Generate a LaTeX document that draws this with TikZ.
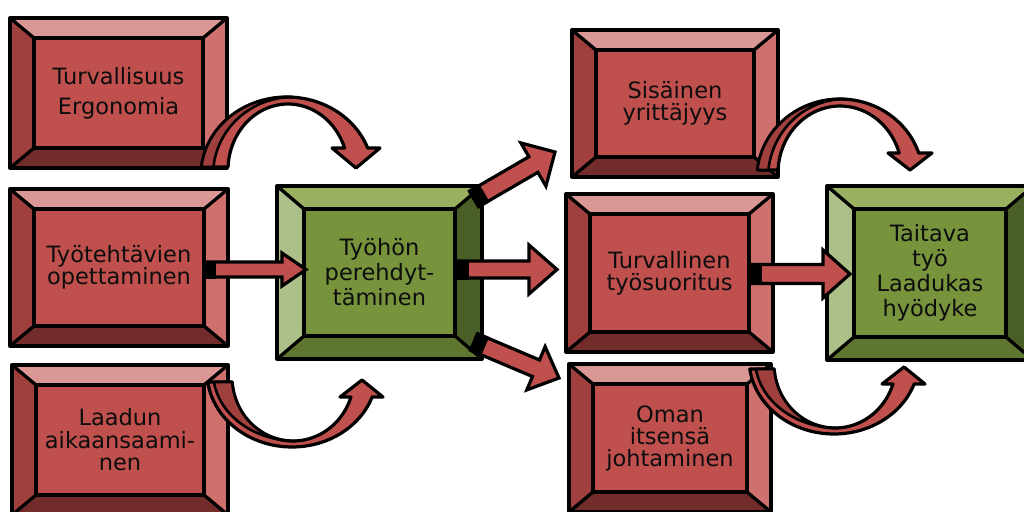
\documentclass[tikz,border=0pt]{standalone}
\usepackage{fontspec}
\setmainfont{DejaVu Sans}
\usetikzlibrary{calc}

% palette: r = red boxes, g = green boxes
\definecolor{rface}{HTML}{C0504D}
\definecolor{rtop}{HTML}{D99795}
\definecolor{rright}{HTML}{CD706E}
\definecolor{rleft}{HTML}{A0403E}
\definecolor{rbot}{HTML}{722C2B}
\definecolor{gface}{HTML}{77933C}
\definecolor{gtop}{HTML}{98B060}
\definecolor{gright}{HTML}{4A5E27}
\definecolor{gleft}{HTML}{ADC08A}
\definecolor{gbot}{HTML}{5F7630}

% bevel widths (horizontal / vertical) per palette
\newcommand\bevelrh{24}\newcommand\bevelrv{20}
\newcommand\bevelgh{27}\newcommand\bevelgv{23}

\tikzset{
  boxshape/.style={rectangle, draw=none, inner sep=0pt, outer sep=0pt},
  bevelline/.style={draw=black, line width=3.3pt, line join=round},
  boxtext/.style={inner sep=0pt, align=center, text=black!95},
  arrowbody/.style={fill=rface, draw=black, line width=3.2pt, line join=miter},
  curvefront/.style={fill=rface, draw=black, line width=3.2pt, line join=round},
  curveback/.style={fill=rleft, draw=black, line width=2.6pt, line join=round},
}

% bevelled box: name, centre x, centre y, width, height, palette, line skip, text
\newcommand{\bevelbox}[8]{%
  \node[boxshape, minimum width=#4pt, minimum height=#5pt] (#1) at (#2,#3) {};
  \edef\bvh{\csname bevel#6h\endcsname}\edef\bvv{\csname bevel#6v\endcsname}%
  \coordinate (#1-a) at ($(#1.north west)+(\bvh,\bvv)$);
  \coordinate (#1-b) at ($(#1.north east)+(-\bvh,\bvv)$);
  \coordinate (#1-c) at ($(#1.south east)+(-\bvh,-\bvv)$);
  \coordinate (#1-d) at ($(#1.south west)+(\bvh,-\bvv)$);
  \fill[#6top] (#1.north west) -- (#1.north east) -- (#1-b) -- (#1-a) -- cycle;
  \fill[#6right] (#1.north east) -- (#1.south east) -- (#1-c) -- (#1-b) -- cycle;
  \fill[#6bot] (#1.south east) -- (#1.south west) -- (#1-d) -- (#1-c) -- cycle;
  \fill[#6left] (#1.south west) -- (#1.north west) -- (#1-a) -- (#1-d) -- cycle;
  \fill[#6face] (#1-a) rectangle (#1-c);
  \draw[bevelline] (#1.north west) rectangle (#1.south east);
  \draw[bevelline] (#1-a) rectangle (#1-c);
  \draw[bevelline] (#1.north west) -- (#1-a) (#1.north east) -- (#1-b)
                   (#1.south east) -- (#1-c) (#1.south west) -- (#1-d);
  \node[boxtext, font=\fontsize{22.5}{#7}\selectfont] (#1-text) at (#1.center) {#8};
}

% straight block arrow: from, to, shaft half width, head half width, head length
\newcommand{\blockarrow}[5]{%
  \filldraw[arrowbody] let \p1=(#1), \p2=(#2),
      \n1={atan2(\y2-\y1,\x2-\x1)}, \n2={veclen(\x2-\x1,\y2-\y1)} in
    [shift={(\p1)}, rotate=\n1]
    (0,-#3) -- ({\n2-#5},-#3) -- ({\n2-#5},-#4) -- (\n2,0)
    -- ({\n2-#5},#4) -- ({\n2-#5},#3) -- (0,#3) -- cycle;
  \fill[black] let \p1=(#1), \p2=(#2),
      \n1={atan2(\y2-\y1,\x2-\x1)} in
    [shift={(\p1)}, rotate=\n1]
    (0,-#3-1.5) -- (12,-#3-1.5) -- (12,#3+1.5) -- (0,#3+1.5) -- cycle;
}

\begin{document}
\begin{tikzpicture}[x=1pt, y=-1pt]
\clip (0,0) rectangle (1024,511);
\fill[white] (0,0) rectangle (1024,511);

% ---- boxes ----
\bevelbox{b1}{118.5}{93}{217}{150}{r}{30}{Turvallisuus\\Ergonomia}
\bevelbox{b2}{119}{267.5}{218}{157}{r}{22}{Työtehtävien\\opettaminen}
\bevelbox{b3}{120}{440}{216}{150}{r}{22.5}{Laadun\\aikaansaami-\\nen}
\bevelbox{g1}{379.5}{272.5}{205}{173}{g}{25}{Työhön\\perehdyt-\\täminen}
\bevelbox{r1}{675}{103.5}{206}{147}{r}{22}{Sisäinen\\yrittäjyys}
\bevelbox{r2}{669.5}{273}{207}{158}{r}{22}{Turvallinen\\työsuoritus}
\bevelbox{r3}{670}{438}{202}{148}{r}{22}{Oman\\itsensä\\johtaminen}
\bevelbox{g2}{930}{273}{206}{174}{g}{25}{Taitava\\työ\\Laadukas\\hyödyke}

% ---- straight arrows ----
\coordinate (a1s) at ($(b2.east)+(-24,2)$);
\coordinate (a1e) at ($(g1.west)+(29,-3)$);
\coordinate (a2s) at ($(g1.east)+(-25,-3)$);
\coordinate (a2e) at ($(r2.west)+(-9,-3.5)$);
\coordinate (a3s) at ($(r2.east)+(-23,1)$);
\coordinate (a3e) at ($(g2.west)+(23,1)$);
\coordinate (a4s) at ($(g1.north east)+(-8,13)$);
\coordinate (a4e) at ($(r1.south west)+(-17,-25)$);
\coordinate (a5s) at ($(g1.south east)+(-8,-17)$);
\coordinate (a5e) at ($(r3.north west)+(-10,14)$);

\blockarrow{a1s}{a1e}{7.5}{16.5}{24}
\blockarrow{a2s}{a2e}{8.5}{24.5}{28}
\blockarrow{a3s}{a3e}{9.5}{24}{27}
\blockarrow{a4s}{a4e}{9}{25}{25}
\blockarrow{a5s}{a5e}{9}{23.5}{25}

% ---- curved arrows arching over (pointing down) ----
\filldraw[curvefront] (201.45,167)
  -- plot[domain=174.11:20.25, samples=50, variable=\t] ({287+86*cos(\t)},{175-78*sin(\t)})
  -- (380,148) -- (356,168) -- (332,148)
  -- plot[domain=19.47:177.4, samples=50, variable=\t] ({288+60*cos(\t)},{170-66*sin(\t)})
  -- cycle;
\filldraw[curveback]
  plot[domain=174.11:90, samples=30, variable=\t] ({287+86*cos(\t)},{175-78*sin(\t)})
  -- plot[domain=90:174.11, samples=30, variable=\t] ({293+80*cos(\t)},{175-78*sin(\t)})
  -- cycle;

\filldraw[curvefront] (757.4,170)
  -- plot[domain=174.19:18.45, samples=50, variable=\t] ({840+83*cos(\t)},{178-79*sin(\t)})
  -- (932,153) -- (910,170) -- (888,153)
  -- plot[domain=17.37:177.43, samples=50, variable=\t] ({840+62*cos(\t)},{173-67*sin(\t)})
  -- cycle;
\filldraw[curveback]
  plot[domain=174.19:90, samples=30, variable=\t] ({840+83*cos(\t)},{178-79*sin(\t)})
  -- plot[domain=90:174.19, samples=30, variable=\t] ({845+77*cos(\t)},{178-79*sin(\t)})
  -- cycle;

% ---- curved arrows dipping under (pointing up) ----
\foreach \dx/\dy in {0/0, 542/-13}{
  \begin{scope}[shift={(\dx,\dy)}]
  \filldraw[curvefront] (207.76,382)
    -- plot[domain=187.66:340.53, samples=50, variable=\t] ({292+85*cos(\t)},{372-75*sin(\t)})
    -- (383,397) -- (362,380) -- (340,397)
    -- plot[domain=341.79:184.48, samples=50, variable=\t] ({293+61*cos(\t)},{377-64*sin(\t)})
    -- cycle;
  \filldraw[curveback]
    plot[domain=188.33:270, samples=30, variable=\t] ({296+83*cos(\t)},{372-69*sin(\t)})
    -- plot[domain=270:184.48, samples=30, variable=\t] ({293+61*cos(\t)},{377-64*sin(\t)})
    -- cycle;
  \end{scope}
}
\end{tikzpicture}
\end{document}
